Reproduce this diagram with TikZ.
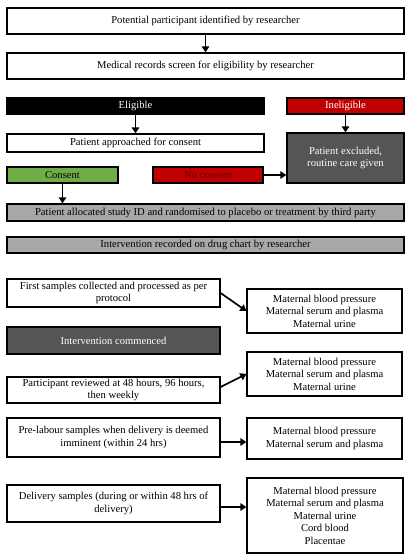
\documentclass[tikz,border=0pt]{standalone}
\usepackage{fontspec}
\setmainfont{Liberation Serif}
\usetikzlibrary{arrows.meta}
\definecolor{cgreen}{HTML}{70AD47}
\definecolor{cred}{HTML}{C00000}
\definecolor{cdark}{HTML}{555555}
\definecolor{clight}{HTML}{A8A8A8}
\definecolor{cdarkred}{HTML}{6A0000}
\tikzset{
  box/.style={draw=black, line width=1.2pt, rectangle, inner sep=0pt, align=center,
    font=\fontsize{10.6}{12.5}\selectfont},
  arr/.style={line width=1.7pt, -{Triangle[length=6pt,width=7.5pt]}},
}
\begin{document}
\begin{tikzpicture}[x=1pt,y=-1pt]
\useasboundingbox (0,0) rectangle (408,560);
\node[box, minimum width=397, minimum height=26] (b1) at (205.5,21) {Potential participant identified by researcher};
\node[box, minimum width=397, minimum height=26] (b2) at (205.5,66) {Medical records screen for eligibility by researcher};
\node[box, fill=black, text=white, minimum width=257, minimum height=16] (elig) at (135.5,106) {Eligible};
\node[box, fill=cred, text=white, minimum width=117, minimum height=16] (inel) at (345.5,106) {Ineligible};
\node[box, minimum width=257, minimum height=18] (appr) at (135.5,143) {Patient approached for consent};
\node[box, fill=cdark, text=white, minimum width=117, minimum height=50] (excl) at (345.5,158) {Patient excluded,\\routine care given};
\node[box, fill=cgreen, minimum width=111, minimum height=16] (cons) at (62.5,175) {Consent};
\node[box, fill=cred, text=cdarkred, minimum width=110, minimum height=16] (nocons) at (208,175) {No consent};
\node[box, fill=clight, minimum width=397, minimum height=17] (alloc) at (205.5,212.5) {Patient allocated study ID and randomised to placebo or treatment by third party};
\node[box, fill=clight, minimum width=397, minimum height=16] (rec) at (205.5,245) {Intervention recorded on drug chart by researcher};
\node[box, minimum width=213, minimum height=28] (first) at (113.5,293) {First samples collected and processed as per\\protocol};
\node[box, minimum width=155, minimum height=44] (r1) at (324.5,311) {Maternal blood pressure\\Maternal serum and plasma\\Maternal urine};
\node[box, fill=cdark, text=white, minimum width=213, minimum height=27] (comm) at (113.5,340.5) {Intervention commenced};
\node[box, minimum width=213, minimum height=26] (rev) at (113.5,390) {Participant reviewed at 48 hours, 96 hours,\\then weekly};
\node[box, minimum width=155, minimum height=44] (r2) at (324.5,374) {Maternal blood pressure\\Maternal serum and plasma\\Maternal urine};
\node[box, minimum width=213, minimum height=39] (pre) at (113.5,437.5) {Pre-labour samples when delivery is deemed\\imminent (within 24 hrs)};
\node[box, minimum width=155, minimum height=41] (r3) at (324.5,438.5) {Maternal blood pressure\\Maternal serum and plasma};
\node[box, minimum width=213, minimum height=37] (del) at (113.5,503.5) {Delivery samples (during or within 48 hrs of\\delivery)};
\node[box, minimum width=156, minimum height=75] (r4) at (325,515.5) {Maternal blood pressure\\Maternal serum and plasma\\Maternal urine\\Cord blood\\Placentae};
\draw[arr] (b1.south) -- (b2.north);
\draw[arr] (elig.south) -- (appr.north);
\draw[arr] (inel.south) -- (excl.north);
\draw[arr] (cons.south) -- (cons.south |- alloc.north);
\draw[arr] (nocons.east) -- (nocons.east -| excl.west);
\draw[arr] (first.east) -- (r1.west);
\draw[arr] ([yshift=3pt]rev.east) -- (r2.west);
\draw[arr] ([yshift=-4.5pt]pre.east) -- ([yshift=-4.5pt]pre.east -| r3.west);
\draw[arr] ([yshift=-3.5pt]del.east) -- ([yshift=-3.5pt]del.east -| r4.west);
\end{tikzpicture}
\end{document}
